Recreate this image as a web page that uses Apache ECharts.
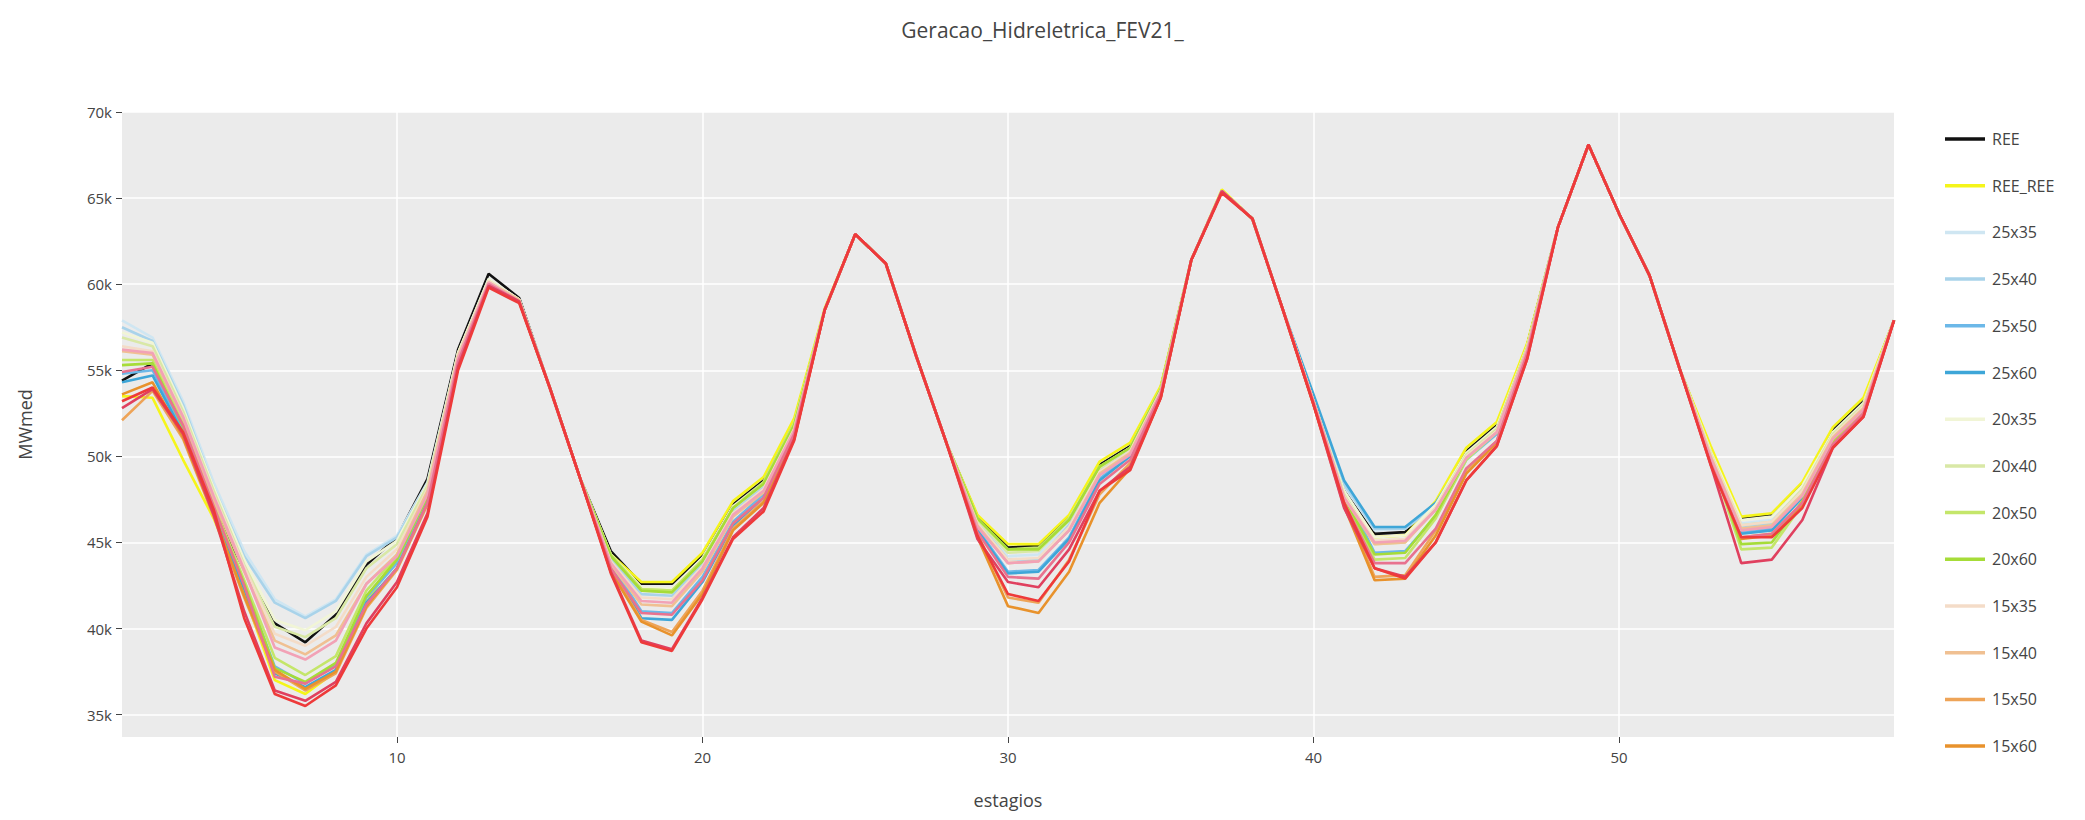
<!DOCTYPE html>
<html>
<head>
<meta charset="utf-8">
<script src="https://cdn.jsdelivr.net/npm/echarts@6/dist/echarts.min.js"></script>
<style>
  html, body { margin: 0; padding: 0; background: #fff; }
  #chart { width: 2085px; height: 820px; }
</style>
</head>
<body>
<div id="chart"></div>
<script>
var stages = [];
for (var i = 1; i <= 59; i++) stages.push(i);

var names = ['REE', 'REE_REE', '25x35', '25x40', '25x50', '25x60', '20x35', '20x40', '20x50', '20x60',
  '15x35', '15x40', '15x50', '15x60', '10x35', '10x40', '10x50', '10x60'];
var legendNames = names.slice(0, 14);
var yTicks = [35, 40, 45, 50, 55, 60, 65, 70];
var xTicks = [10, 20, 30, 40, 50];

// values in thousands of MWmed
var ree = [54.4,55.4,51.2,47.0,43.4,40.3,39.2,40.8,43.7,45.3,48.7,56.2,60.6,59.2,54.0,48.7,44.5,42.6,42.6,44.3,47.2,48.6,52.0,58.5,62.9,61.2,55.8,50.7,46.5,44.7,44.8,46.5,49.5,50.6,54.0,61.4,65.4,63.8,58.5,53.2,48.0,45.5,45.6,47.3,50.3,51.8,56.5,63.3,68.1,64.1,60.5,55.0,50.4,46.4,46.6,48.4,51.5,53.2,57.9];
var reeRee = [53.5,53.4,49.8,46.4,42.0,37.0,36.2,37.5,41.5,44.3,48.2,56.0,60.2,59.0,54.0,48.7,44.3,42.7,42.7,44.4,47.4,48.8,52.2,58.6,62.9,61.2,55.8,50.7,46.6,44.9,44.9,46.6,49.7,50.8,54.1,61.4,65.5,63.8,58.5,53.2,47.9,45.3,45.4,47.4,50.5,52.0,56.6,63.3,68.1,64.1,60.5,55.0,50.6,46.5,46.7,48.5,51.7,53.4,57.9];
var s25x35 = [57.9,56.9,53.2,48.5,44.5,41.7,40.7,41.7,44.3,45.4,48.5,56.0,60.3,59.1,54.0,48.7,44.2,42.2,42.1,44.0,47.0,48.4,51.8,58.5,62.9,61.2,55.8,50.7,46.3,44.2,44.3,46.2,49.3,50.5,53.9,61.4,65.4,63.8,58.5,53.3,48.3,45.7,45.8,47.2,50.1,51.6,56.4,63.3,68.1,64.1,60.5,55.0,50.2,46.1,46.3,48.1,51.3,53.0,57.9];
var s25x40 = [57.5,56.7,53.0,48.2,44.2,41.5,40.6,41.6,44.2,45.3,48.4,55.9,60.2,59.1,54.0,48.7,44.0,42.0,41.9,43.8,46.8,48.2,51.6,58.5,62.9,61.2,55.8,50.7,46.2,44.0,44.0,46.0,49.2,50.4,53.8,61.4,65.4,63.8,58.5,53.3,48.4,45.8,45.8,47.1,50.0,51.5,56.3,63.3,68.1,64.1,60.5,55.0,50.1,45.9,46.1,48.0,51.2,52.9,57.9];
var s25x50 = [54.8,55.0,51.5,47.0,42.5,37.8,36.8,37.9,41.8,43.8,47.5,55.6,60.0,59.0,54.0,48.7,43.8,41.0,40.9,43.0,46.2,47.8,51.3,58.5,62.9,61.2,55.8,50.7,45.8,43.3,43.4,45.3,48.7,50.1,53.7,61.4,65.4,63.8,58.5,53.4,48.0,44.4,44.5,46.5,49.8,51.3,56.2,63.3,68.1,64.1,60.5,55.0,50.0,45.6,45.8,47.7,51.0,52.7,57.9];
var s25x60 = [54.3,54.7,51.3,46.8,42.3,37.4,36.6,37.6,41.5,43.5,47.3,55.5,60.0,59.0,54.0,48.7,43.6,40.6,40.5,42.7,46.0,47.6,51.2,58.5,62.9,61.2,55.8,50.7,45.7,43.2,43.3,45.2,48.6,50.0,53.6,61.4,65.4,63.8,58.5,53.6,48.6,45.9,45.9,47.3,50.0,51.5,56.3,63.3,68.1,64.1,60.5,55.0,50.0,45.5,45.7,47.6,50.9,52.6,57.9];
var s20x35 = [57.2,56.6,52.8,48.2,44.0,40.5,39.9,41.0,43.9,45.1,48.4,56.0,60.3,59.1,54.0,48.7,44.3,42.4,42.3,44.1,47.1,48.5,51.9,58.5,62.9,61.2,55.8,50.7,46.4,44.5,44.6,46.4,49.4,50.5,53.9,61.4,65.4,63.8,58.5,53.2,48.0,45.3,45.4,47.2,50.2,51.7,56.4,63.3,68.1,64.1,60.5,55.0,50.3,46.3,46.5,48.3,51.4,53.1,57.9];
var s20x40 = [56.9,56.4,52.6,48.0,43.7,40.1,39.5,40.6,43.5,44.9,48.3,55.9,60.2,59.1,54.0,48.7,44.2,42.3,42.2,44.0,47.0,48.4,51.8,58.5,62.9,61.2,55.8,50.7,46.3,44.4,44.5,46.3,49.3,50.5,53.9,61.4,65.4,63.8,58.5,53.2,47.8,44.9,45.0,47.0,50.1,51.6,56.4,63.3,68.1,64.1,60.5,55.0,50.2,46.0,46.2,48.1,51.3,53.0,57.9];
var s20x50 = [55.6,55.6,51.9,47.2,42.8,38.3,37.3,38.4,42.2,44.2,47.8,55.7,60.1,59.0,54.0,48.7,44.3,42.3,42.2,44.0,47.0,48.5,51.9,58.5,62.9,61.2,55.8,50.7,46.4,44.6,44.7,46.4,49.4,50.5,53.9,61.4,65.4,63.8,58.5,53.2,47.5,44.0,44.1,46.4,49.8,51.4,56.3,63.3,68.1,64.1,60.5,55.0,49.9,44.6,44.7,47.2,50.8,52.7,57.9];
var s20x60 = [55.3,55.4,51.7,47.0,42.6,37.7,36.9,38.0,41.9,44.0,47.7,55.6,60.0,59.0,54.0,48.7,44.2,42.2,42.1,43.9,47.0,48.4,51.8,58.5,62.9,61.2,55.8,50.7,46.4,44.6,44.6,46.3,49.4,50.5,53.9,61.4,65.4,63.8,58.5,53.2,47.6,44.3,44.4,46.6,49.9,51.5,56.3,63.3,68.1,64.1,60.5,55.0,50.0,44.9,45.0,47.4,50.9,52.8,57.9];
var s15x35 = [56.4,56.1,52.4,47.8,43.6,39.7,39.0,40.1,43.0,44.6,48.1,55.9,60.2,59.1,54.0,48.7,43.9,41.8,41.7,43.6,46.7,48.1,51.6,58.5,62.9,61.2,55.8,50.7,46.1,44.0,44.1,45.9,49.1,50.3,53.8,61.4,65.4,63.8,58.5,53.2,47.7,45.1,45.2,47.0,50.0,51.5,56.3,63.3,68.1,64.1,60.5,55.0,50.1,46.0,46.2,48.0,51.2,52.9,57.9];
var s15x40 = [56.1,55.9,52.2,47.5,43.3,39.3,38.5,39.6,42.6,44.3,48.0,55.8,60.1,59.1,54.0,48.7,43.7,41.4,41.3,43.3,46.5,47.9,51.5,58.5,62.9,61.2,55.8,50.7,46.0,43.8,43.9,45.7,49.0,50.2,53.7,61.4,65.4,63.8,58.5,53.2,47.6,44.9,45.0,46.9,49.9,51.4,56.2,63.3,68.1,64.1,60.5,55.0,50.0,45.8,46.0,47.8,51.1,52.8,57.9];
var s15x50 = [52.1,53.8,51.0,46.5,41.8,37.5,36.4,37.4,41.2,43.4,47.2,55.5,60.0,59.0,54.0,48.7,43.4,40.5,39.8,42.2,45.8,47.4,51.1,58.5,62.9,61.2,55.8,50.7,45.5,41.8,41.5,44.0,47.8,49.6,53.5,61.4,65.4,63.8,58.5,53.0,47.3,43.0,43.1,45.7,49.2,50.9,56.0,63.3,68.1,64.1,60.5,55.0,49.8,45.3,45.5,47.3,50.7,52.5,57.9];
var s15x60 = [53.6,54.3,51.1,46.6,41.9,37.6,36.5,37.5,41.3,43.5,47.3,55.5,60.0,59.0,54.0,48.7,43.3,40.4,39.6,42.0,45.7,47.3,51.0,58.5,62.9,61.2,55.8,50.7,45.3,41.3,40.9,43.3,47.3,49.3,53.4,61.4,65.4,63.8,58.5,53.0,47.1,42.8,42.9,45.4,49.0,50.8,55.9,63.3,68.1,64.1,60.5,55.0,49.7,45.2,45.4,47.2,50.6,52.4,57.9];
var s10x35 = [56.2,56.0,52.3,47.7,43.4,38.9,38.2,39.3,42.6,44.2,47.8,55.7,60.1,59.0,54.0,48.7,43.8,41.6,41.5,43.5,46.6,48.0,51.5,58.5,62.9,61.2,55.8,50.7,45.9,43.8,43.9,45.7,48.9,50.1,53.7,61.4,65.4,63.8,58.5,53.2,47.6,45.0,45.1,46.9,49.9,51.4,56.2,63.3,68.1,64.1,60.5,55.0,49.9,45.7,45.9,47.7,51.0,52.7,57.9];
var s10x40 = [54.9,55.2,51.8,47.1,42.5,37.2,36.8,37.8,41.4,43.5,47.3,55.5,60.0,59.0,54.0,48.7,43.5,40.9,40.8,42.8,46.1,47.6,51.3,58.5,62.9,61.2,55.8,50.7,45.6,43.0,42.9,45.0,48.4,49.8,53.6,61.4,65.4,63.8,58.5,53.1,47.3,43.8,43.8,45.8,49.3,50.9,56.0,63.3,68.1,64.1,60.5,55.0,49.6,45.3,45.5,47.3,50.7,52.5,57.9];
var s10x50 = [52.8,53.9,51.3,46.6,41.0,36.4,35.8,36.9,40.3,42.7,46.7,55.2,59.9,59.0,54.0,48.7,43.3,39.3,38.8,41.8,45.3,47.0,51.0,58.5,62.9,61.2,55.8,50.7,45.2,42.7,42.4,44.6,48.0,49.4,53.4,61.4,65.4,63.8,58.5,53.0,47.0,43.5,43.0,45.0,48.6,50.6,55.7,63.3,68.1,64.1,60.5,55.0,49.5,43.8,44.0,46.3,50.5,52.3,57.9];
var s10x60 = [53.2,54.0,51.4,46.9,40.6,36.2,35.5,36.7,40.0,42.4,46.5,55.0,59.8,58.9,54.0,48.7,43.2,39.2,38.7,41.7,45.2,46.8,50.9,58.5,62.9,61.2,55.8,50.7,45.4,42.0,41.6,43.9,48.0,49.2,53.4,61.4,65.3,63.8,58.5,53.0,47.3,43.5,42.9,45.0,48.6,50.6,55.7,63.3,68.1,64.1,60.5,55.0,49.5,45.3,45.3,47.0,50.5,52.3,57.9];

var values = [ree, reeRee, s25x35, s25x40, s25x50, s25x60, s20x35, s20x40, s20x50, s20x60,
  s15x35, s15x40, s15x50, s15x60, s10x35, s10x40, s10x50, s10x60];
var colors = ['#111111', '#f5f51a', '#cfe6f2', '#a9d3ea', '#6cb8e8', '#3ea6d8', '#f1f5d6', '#d9e8a6', '#c4e66a', '#a6dc38',
  '#f4dcc8', '#f0c092', '#eea458', '#e8922c', '#f2a2b6', '#e8728f', '#e0405f', '#ee3a3a'];

var chart = echarts.init(document.getElementById('chart'), null, { renderer: 'svg' });

var series = names.map(function(n, k) {
  return {
    name: n,
    type: 'line',
    showSymbol: false,
    symbol: 'none',
    data: stages.map(function(s, j) { return [s, values[k][j]]; }),
    lineStyle: { color: colors[k], width: 2.6 },
    itemStyle: { color: colors[k] },
    z: 2
  };
});

chart.setOption({
  animation: false,
  backgroundColor: '#ffffff',
  title: {
    text: 'Geracao_Hidreletrica_FEV21_',
    left: 'center',
    top: 14,
    textStyle: { color: '#444', fontSize: 21, fontWeight: 'normal', fontFamily: 'Open Sans' }
  },
  legend: {
    data: legendNames,
    orient: 'vertical',
    left: 1940,
    top: 126,
    itemGap: 30.7,
    itemWidth: 40,
    itemHeight: 3.5,
    icon: 'rect',
    textStyle: { color: '#444', fontSize: 16, fontFamily: 'Open Sans', padding: [0, 0, 0, 2] }
  },
  grid: { left: 122, right: 191, top: 112, bottom: 83, backgroundColor: '#ebebeb', show: true, borderWidth: 0 },
  xAxis: {
    type: 'value',
    min: 1,
    max: 59,
    name: 'estagios',
    nameLocation: 'middle',
    nameGap: 54,
    nameTextStyle: { color: '#444', fontSize: 18, fontFamily: 'Open Sans' },
    axisLine: { show: false },
    axisTick: { show: true, customValues: xTicks, length: 6, lineStyle: { color: '#444' } },
    axisLabel: { customValues: xTicks, color: '#444', fontSize: 15, fontFamily: 'Open Sans', margin: 12 },
    splitLine: { show: true, lineStyle: { color: '#ffffff', width: 1.5 } }
  },
  yAxis: {
    type: 'value',
    min: 33.7,
    max: 70,
    name: 'MWmed',
    nameLocation: 'middle',
    nameGap: 88,
    nameTextStyle: { color: '#444', fontSize: 18, fontFamily: 'Open Sans' },
    axisLine: { show: false },
    axisTick: { show: true, customValues: yTicks, length: 6, lineStyle: { color: '#444' } },
    axisLabel: {
      customValues: yTicks, color: '#444', fontSize: 15, fontFamily: 'Open Sans', margin: 10,
      formatter: function(v) { return v + 'k'; }
    },
    splitLine: { show: true, lineStyle: { color: '#ffffff', width: 1.5 } }
  },
  series: series
});
</script>
</body>
</html>
